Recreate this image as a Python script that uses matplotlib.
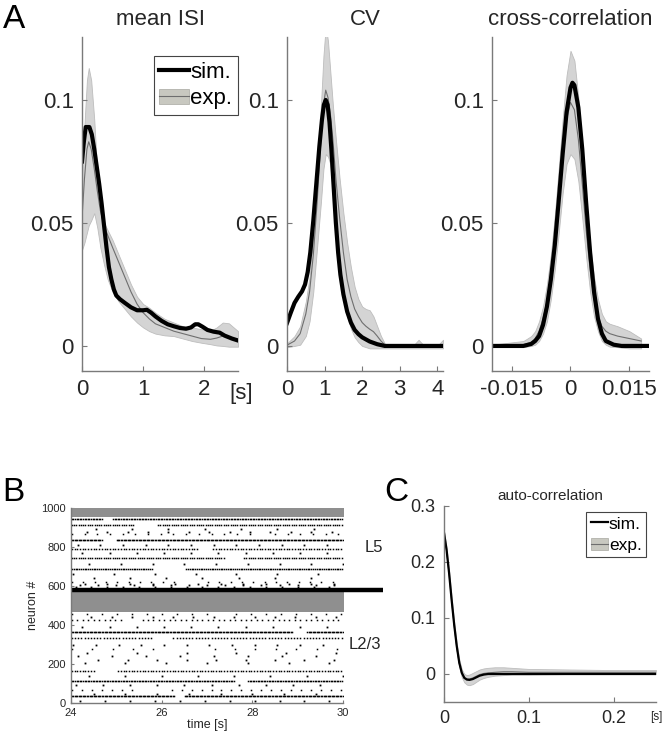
import numpy as np
import matplotlib.pyplot as plt
from matplotlib.lines import Line2D
from matplotlib.patches import Patch

plt.rcParams['font.family'] = ['Liberation Sans', 'DejaVu Sans']

# ---- panel A: mean ISI ----
isi_sim_x = [0, 0.03, 0.06, 0.12, 0.16, 0.2, 0.24, 0.28, 0.32, 0.36, 0.40, 0.44, 0.48, 0.52, 0.56, 0.62, 0.7, 0.8, 0.9,
             1.0, 1.06, 1.13, 1.2, 1.3, 1.4, 1.5, 1.6, 1.7, 1.78, 1.85, 1.9, 1.97, 2.05, 2.15, 2.25, 2.33, 2.45, 2.55]
isi_sim_y = [0.075, 0.083, 0.089, 0.089, 0.086, 0.080, 0.073, 0.066, 0.058, 0.049, 0.040, 0.032, 0.027, 0.023, 0.0205,
             0.019, 0.0175, 0.0157, 0.0145, 0.0145, 0.0147, 0.0135, 0.012, 0.0102, 0.0088, 0.008, 0.0073, 0.007, 0.0075,
             0.0088, 0.0088, 0.0078, 0.0065, 0.0058, 0.0054, 0.0042, 0.003, 0.0022]
isi_exp_x = [0, 0.04, 0.08, 0.11, 0.15, 0.2, 0.25, 0.3, 0.36, 0.42, 0.5, 0.6, 0.7, 0.8, 0.9, 1.0, 1.1, 1.2, 1.35, 1.5,
             1.65, 1.8, 1.95, 2.1, 2.2, 2.3, 2.4, 2.55]
isi_exp_y = [0.052, 0.068, 0.080, 0.083, 0.080, 0.072, 0.063, 0.055, 0.049, 0.045, 0.040, 0.034, 0.028, 0.022, 0.017,
             0.0135, 0.011, 0.009, 0.0075, 0.006, 0.005, 0.004, 0.003, 0.0027, 0.0032, 0.004, 0.0035, 0.0027]
isi_hi = [0.07, 0.09, 0.108, 0.113, 0.108, 0.092, 0.07, 0.057, 0.05, 0.047, 0.043, 0.037, 0.031, 0.025, 0.020, 0.017,
          0.0155, 0.0135, 0.011, 0.0095, 0.008, 0.0075, 0.0068, 0.0062, 0.0075, 0.0095, 0.0092, 0.006]
isi_lo = [0.039, 0.042, 0.046, 0.049, 0.051, 0.054, 0.048, 0.040, 0.033, 0.027, 0.022, 0.018, 0.015, 0.012, 0.0095,
          0.0075, 0.006, 0.005, 0.0043, 0.004, 0.003, 0.002, 0.0013, 0.0007, 0.0002, 0.0, -0.0003, -0.0003]

# ---- panel A: CV ----
cv_sim_x = [0, 0.1, 0.2, 0.3, 0.4, 0.48, 0.55, 0.62, 0.7, 0.78, 0.86, 0.93, 0.98, 1.03, 1.08, 1.13, 1.18, 1.24, 1.3,
            1.36, 1.42, 1.5, 1.6, 1.7, 1.8, 1.9, 2.0, 2.2, 2.4, 2.6, 4.15]
cv_sim_y = [0.0093, 0.0135, 0.0175, 0.020, 0.0222, 0.025, 0.030, 0.038, 0.051, 0.066, 0.081, 0.092, 0.098, 0.100,
            0.098, 0.091, 0.080, 0.065, 0.050, 0.038, 0.029, 0.021, 0.014, 0.0095, 0.0065, 0.0048, 0.0035, 0.0018,
            0.0007, 0.0, 0.0]
cv_exp_x = [0, 0.2, 0.35, 0.5, 0.6, 0.7, 0.8, 0.9, 0.97, 1.03, 1.09, 1.15, 1.22, 1.3, 1.4, 1.5, 1.6, 1.7, 1.8, 1.9,
            2.0, 2.1, 2.2, 2.3, 2.4, 2.5, 2.6, 2.7, 3.35, 3.5, 3.65, 4.0, 4.15]
cv_exp_y = [0.0003, 0.002, 0.005, 0.013, 0.022, 0.037, 0.058, 0.083, 0.098, 0.104, 0.101, 0.095, 0.084, 0.068, 0.052,
            0.038, 0.027, 0.020, 0.015, 0.012, 0.0095, 0.008, 0.0068, 0.0058, 0.004, 0.002, 0.0005, 0.0, 0.0, 0.0003,
            0.0, 0.0, 0.0]
cv_hi = [0.001, 0.004, 0.008, 0.018, 0.028, 0.045, 0.07, 0.097, 0.118, 0.130, 0.124, 0.112, 0.098, 0.084, 0.068, 0.054,
         0.042, 0.032, 0.024, 0.019, 0.016, 0.015, 0.0145, 0.012, 0.008, 0.004, 0.001, 0.0, 0.0, 0.0025, 0.0, 0.0, 0.0025]
cv_lo = [-0.0005, 0.0, 0.0005, 0.004, 0.010, 0.022, 0.040, 0.058, 0.072, 0.078, 0.077, 0.074, 0.063, 0.050, 0.034,
         0.021, 0.012, 0.007, 0.0035, 0.0015, 0.0, -0.0005, -0.001, -0.001, -0.001, -0.001, -0.001, -0.001, -0.001,
         -0.001, -0.001, -0.001, -0.001]

# ---- panel A: cross-correlation ----
cc_x = [-0.02, -0.012, -0.01, -0.009, -0.008, -0.007, -0.006, -0.005, -0.004, -0.003, -0.002, -0.001, 0.0, 0.0005,
        0.001, 0.002, 0.003, 0.004, 0.005, 0.006, 0.007, 0.008, 0.009, 0.011, 0.013, 0.02]
cc_sim = [0.0, 0.0, 0.0008, 0.002, 0.004, 0.0085, 0.016, 0.027, 0.041, 0.059, 0.078, 0.095, 0.105, 0.107, 0.106, 0.097,
          0.080, 0.058, 0.038, 0.022, 0.011, 0.005, 0.002, 0.0005, 0.0, 0.0]
cc_exp_x = [-0.02, -0.012, -0.01, -0.009, -0.008, -0.007, -0.006, -0.005, -0.004, -0.003, -0.002, -0.001, 0.0, 0.001,
            0.002, 0.003, 0.004, 0.005, 0.006, 0.007, 0.008, 0.009, 0.01, 0.012, 0.015, 0.018]
cc_exp = [0.0, 0.0005, 0.0015, 0.003, 0.006, 0.011, 0.018, 0.029, 0.043, 0.060, 0.078, 0.092, 0.099, 0.096, 0.084,
          0.066, 0.047, 0.031, 0.019, 0.012, 0.008, 0.006, 0.005, 0.004, 0.003, 0.002]
cc_hi = [0.0005, 0.002, 0.004, 0.006, 0.010, 0.016, 0.025, 0.037, 0.053, 0.072, 0.092, 0.110, 0.120, 0.116, 0.101,
         0.080, 0.059, 0.041, 0.028, 0.019, 0.013, 0.010, 0.009, 0.008, 0.006, 0.003]
cc_lo = [-0.0005, -0.0005, 0.0, 0.0005, 0.002, 0.005, 0.010, 0.019, 0.031, 0.046, 0.062, 0.074, 0.078, 0.076, 0.067,
         0.052, 0.036, 0.022, 0.012, 0.006, 0.002, 0.0005, -0.0003, -0.0005, -0.001, -0.001]

# ---- panel C: auto-correlation ----
ac_x = [0, 0.003, 0.006, 0.009, 0.012, 0.015, 0.018, 0.021, 0.024, 0.027, 0.030, 0.034, 0.038, 0.042, 0.047, 0.052,
        0.06, 0.07, 0.08, 0.1, 0.15, 0.2, 0.25]
ac_sim = [0.252, 0.222, 0.180, 0.132, 0.088, 0.050, 0.020, 0.002, -0.007, -0.010, -0.0105, -0.009, -0.006, -0.003,
          -0.001, 0.0, 0.0, 0.0, 0.0, 0.0, 0.0, 0.0, 0.0]
ac_exp = [0.25, 0.22, 0.178, 0.13, 0.086, 0.048, 0.019, 0.001, -0.007, -0.009, -0.009, -0.007, -0.004, -0.001, 0.001,
          0.002, 0.003, 0.004, 0.004, 0.003, 0.003, 0.003, 0.003]
ac_hi = [0.255, 0.226, 0.184, 0.137, 0.093, 0.055, 0.026, 0.008, 0.0, -0.002, -0.001, 0.002, 0.005, 0.008, 0.010,
         0.011, 0.012, 0.012, 0.011, 0.009, 0.008, 0.007, 0.007]
ac_lo = [0.245, 0.214, 0.172, 0.123, 0.079, 0.041, 0.012, -0.006, -0.015, -0.019, -0.020, -0.018, -0.014, -0.010,
         -0.007, -0.005, -0.003, -0.002, -0.001, -0.001, 0.0, 0.0, 0.0]

# ---- panel B: raster ----
gray_lo = [465, 953]          # dense populations (neuron ranges)
gray_hi = [565, 995]
gray_isi = [0.028, 0.05]
row_n = [36, 67, 113, 165, 278, 335, 366, 428, 459, 620, 686, 742, 789, 835, 866, 912, 943]
row_isi = [0.03, 0.22, 0.035, 0.06, 0.45, 0.07, 0.03, 0.12, 0.33, 0.25, 0.04, 0.05, 0.06, 0.03, 0.28, 0.05, 0.035]
row_gap0 = [26.3, 25.5, 27.6, 24.5, 26.0, 25.8, 28.9, 25.2, 27.0, 26.5, 25.8, 27.4, 26.8, 24.7, 28.0, 25.4, 24.7]
row_gap1 = [26.5, 26.2, 27.9, 25.0, 26.8, 26.2, 29.2, 25.5, 27.5, 27.0, 26.5, 27.8, 27.1, 25.0, 28.5, 25.9, 24.9]
sparse_n = [12, 48, 92, 140, 205, 222, 240, 255, 300, 392, 440, 595, 605, 612, 640, 660, 712, 770, 808, 878, 893]
sparse_isi = [0.55, 0.7, 0.6, 0.8, 0.9, 0.65, 0.75, 1.1, 0.5, 0.6, 0.45, 0.35, 0.4, 0.5, 0.8, 0.9, 0.7, 0.6, 0.5, 0.45, 0.8]
sparse_t0 = [24.2, 24.5, 24.1, 24.4, 24.3, 24.6, 24.15, 24.35, 24.05, 24.25, 24.45, 24.1, 24.2, 24.3, 24.5, 24.05,
             24.4, 24.25, 24.15, 24.35, 24.55]
l5_line = 578

ax_col = '#7a7a7a'
txt_col = '#262626'
band_col = '#d4d4d4'
exp_col = '#6e6e6e'

fig = plt.figure(figsize=(6.69, 7.36), dpi=100)


def style(ax, fs):
    for s in ['top', 'right']:
        ax.spines[s].set_visible(False)
    for s in ['left', 'bottom']:
        ax.spines[s].set_color(ax_col)
        ax.spines[s].set_linewidth(1)
    ax.tick_params(direction='in', length=3.5, color=ax_col, labelsize=fs,
                   labelcolor=txt_col, pad=6)


def draw(ax, xs, sim, ex_x, ex, lo, hi, lw):
    ax.fill_between(ex_x, lo, hi, color=band_col, edgecolor='#bdbdbd', linewidth=0.6)
    ax.plot(ex_x, ex, color=exp_col, lw=0.8)
    ax.plot(xs, sim, color='k', lw=lw, solid_joinstyle='round')


# A1
ax1 = fig.add_axes([0.1226, 0.4959, 0.2332, 0.4538])
draw(ax1, isi_sim_x, isi_sim_y, isi_exp_x, isi_exp_y, isi_lo, isi_hi, 3)
ax1.set_xlim(0, 2.55)
ax1.set_xticks([0, 1, 2])
ax1.set_xticklabels(['0', '1', '2'])
ax1.set_title('mean ISI', fontsize=16, color=txt_col, pad=9)
ax1.annotate('[s]', xy=(1.02, 0), xycoords='axes fraction', xytext=(0, -8.5),
             textcoords='offset points', ha='center', va='top', fontsize=16, color=txt_col)
h_sim = Line2D([], [], color='k', lw=3)
h_exp = (Patch(facecolor='#c8c8c0', edgecolor='#a8a8a0', lw=0.5), Line2D([], [], color=exp_col, lw=0.8))
leg = ax1.legend([h_sim, h_exp], ['sim.', 'exp.'], loc='upper right', bbox_to_anchor=(1.0, 0.943),
                 borderaxespad=0, fontsize=16, handlelength=1.35, handletextpad=0.05,
                 borderpad=0.25, labelspacing=0.25, fancybox=False, framealpha=1)
leg.get_frame().set_edgecolor('#444444')
leg.get_frame().set_linewidth(0.8)

# A2
ax2 = fig.add_axes([0.429, 0.4959, 0.2332, 0.4538])
draw(ax2, cv_sim_x, cv_sim_y, cv_exp_x, cv_exp_y, cv_lo, cv_hi, 3)
ax2.set_xlim(0, 4.15)
ax2.set_xticks([0, 1, 2, 3, 4])
ax2.set_xticklabels(['0', '1', '2', '3', '4'])
ax2.set_title('CV', fontsize=16, color=txt_col, pad=9)

# A3
ax3 = fig.add_axes([0.7354, 0.4959, 0.2347, 0.4538])
draw(ax3, cc_x, cc_sim, cc_exp_x, cc_exp, cc_lo, cc_hi, 3)
ax3.set_xlim(-0.02, 0.02)
ax3.set_xticks([-0.015, 0, 0.015])
ax3.set_xticklabels(['-0.015', '0', '0.015'])
ax3.set_title('cross-correlation', fontsize=16, color=txt_col, pad=9)

for ax in [ax1, ax2, ax3]:
    ax.set_ylim(-0.0102, 0.1256)
    ax.set_yticks([0, 0.05, 0.1])
    ax.set_yticklabels(['0', '0.05', '0.1'])
    style(ax, 16)

# B raster
axb = fig.add_axes([0.1061, 0.0448, 0.4066, 0.2649])
for lo, hi, isi in zip(gray_lo, gray_hi, gray_isi):
    for n in range(lo, hi + 1):
        ph = (n * 0.618) % 1.0
        t = 24 + (np.arange(int(6 / isi) + 1) + ph) * isi
        t = t[t <= 30]
        axb.plot(t, np.full(len(t), n), ',', color='#8f8f8f')
for n, isi, g0, g1 in zip(row_n, row_isi, row_gap0, row_gap1):
    t = np.arange(24.02, 30, isi)
    t = t[(t < g0) | (t > g1)]
    axb.plot(t, np.full(len(t), n), 's', ms=1.1, mew=0, color='k')
for n, isi, t0 in zip(sparse_n, sparse_isi, sparse_t0):
    t = np.arange(t0, 30, isi)
    axb.plot(t, np.full(len(t), n), 's', ms=1.3, mew=0, color='k')
axb.plot([24, 30.88], [l5_line, l5_line], color='k', lw=3.2, clip_on=False, solid_capstyle='butt')
axb.set_xlim(24, 30)
axb.set_ylim(0, 1000)
axb.set_xticks([24, 26, 28, 30])
axb.set_yticks([0, 200, 400, 600, 800, 1000])
style(axb, 8)
axb.tick_params(length=2, pad=3.5)
axb.set_xlabel('time [s]', fontsize=9, color=txt_col, labelpad=1)
axb.set_ylabel('neuron #', fontsize=9, color=txt_col, labelpad=2)
axb.text(1.08, 0.80, 'L5', transform=axb.transAxes, fontsize=12, color=txt_col, ha='left', va='center')
axb.text(1.02, 0.30, 'L2/3', transform=axb.transAxes, fontsize=12, color=txt_col, ha='left', va='center')

# C
axc = fig.add_axes([0.6637, 0.0462, 0.3169, 0.2663])
draw(axc, ac_x, ac_sim, ac_x, ac_exp, ac_lo, ac_hi, 1.6)
axc.set_xlim(0, 0.25)
axc.set_ylim(-0.05, 0.3)
axc.set_xticks([0, 0.1, 0.2])
axc.set_xticklabels(['0', '0.1', '0.2'])
axc.set_yticks([0, 0.1, 0.2, 0.3])
axc.set_yticklabels(['0', '0.1', '0.2', '0.3'])
style(axc, 13)
axc.set_title('auto-correlation', fontsize=11, color=txt_col, pad=4)
axc.annotate('[s]', xy=(1.0, 0), xycoords='axes fraction', xytext=(0, -6.5),
             textcoords='offset points', ha='center', va='top', fontsize=8.5, color=txt_col)
h_sim2 = Line2D([], [], color='k', lw=1.6)
h_exp2 = (Patch(facecolor='#c8c8c0', edgecolor='#a8a8a0', lw=0.5), Line2D([], [], color=exp_col, lw=0.8))
leg2 = axc.legend([h_sim2, h_exp2], ['sim.', 'exp.'], loc='upper right', bbox_to_anchor=(0.953, 0.969),
                  borderaxespad=0, fontsize=12.5, handlelength=1.0, handletextpad=0.05,
                  borderpad=0.25, labelspacing=0.35, fancybox=False, framealpha=1)
leg2.get_frame().set_edgecolor('#444444')
leg2.get_frame().set_linewidth(0.8)

# panel letters
fig.text(0.004, 0.962, 'A', fontsize=24, color='k', ha='left', va='baseline')
fig.text(0.004, 0.319, 'B', fontsize=24, color='k', ha='left', va='baseline')
fig.text(0.575, 0.319, 'C', fontsize=24, color='k', ha='left', va='baseline')

fig.savefig('out.png', dpi=100)
